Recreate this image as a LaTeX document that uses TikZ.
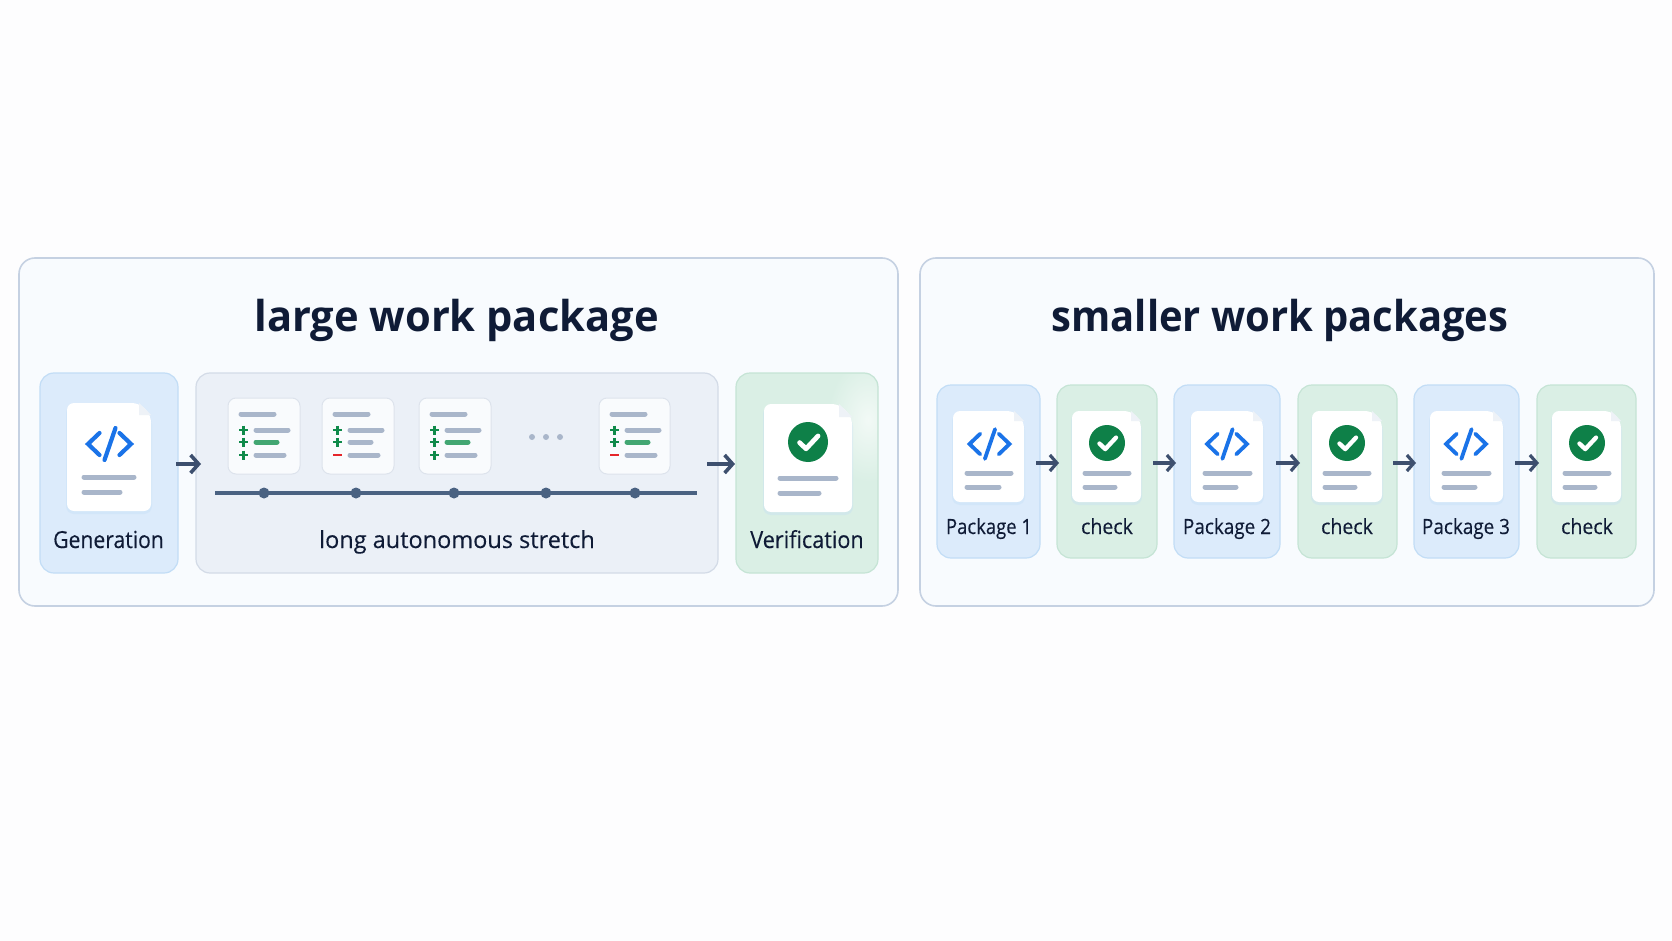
\documentclass[tikz,border=0pt]{standalone}
\usepackage{fontspec}
\usepackage{graphicx}
\setmainfont{Open Sans}
\newfontfamily\labelfont[FakeBold=0.25]{Open Sans}
\usetikzlibrary{arrows.meta,calc}
\definecolor{pagebg}{HTML}{FDFDFE}
\definecolor{panelfill}{HTML}{F8FBFE}
\definecolor{panelline}{HTML}{C5D1E2}
\definecolor{bluefill}{HTML}{DCEBFB}
\definecolor{blueline}{HTML}{C2DDF6}
\definecolor{greenfill}{HTML}{DAEFE5}
\definecolor{greenline}{HTML}{C5E4D5}
\definecolor{grayfill}{HTML}{EBF0F7}
\definecolor{grayline}{HTML}{D3DBE7}
\definecolor{inktext}{HTML}{0F1B36}
\definecolor{arrowink}{HTML}{3D4F6E}
\definecolor{barink}{HTML}{A9B6CA}
\definecolor{barpass}{HTML}{42A672}
\definecolor{plusink}{HTML}{0F8A4A}
\definecolor{minusink}{HTML}{E5252A}
\definecolor{checkink}{HTML}{0E8048}
\definecolor{codeink}{HTML}{1A73E8}
\definecolor{railink}{HTML}{4A6282}
\definecolor{cardline}{HTML}{DDE3EC}
\definecolor{cardfill}{HTML}{F9FBFD}
\definecolor{foldfill}{HTML}{EEF2F7}
\tikzset{
  x=1pt,y=-1pt,
  panelbox/.style={draw=panelline,fill=panelfill,line width=1.6pt,rounded corners=16pt,inner sep=0,outer sep=0},
  bluebox/.style={draw=blueline,fill=bluefill,line width=1.2pt,rounded corners=14pt,inner sep=0,outer sep=0},
  greenbox/.style={draw=greenline,fill=greenfill,line width=1.2pt,rounded corners=14pt,inner sep=0,outer sep=0},
  graybox/.style={draw=grayline,fill=grayfill,line width=1.2pt,rounded corners=14pt,inner sep=0,outer sep=0},
  cardbox/.style={draw=cardline,fill=cardfill,line width=1pt,rounded corners=8pt,inner sep=0,outer sep=0},
  titletext/.style={text=inktext,anchor=base,inner sep=0},
  labeltext/.style={text=inktext,anchor=base,font=\labelfont\fontsize{23.5}{27}\selectfont,inner sep=0},
  smalllabel/.style={text=inktext,anchor=base,font=\labelfont\fontsize{21}{24}\selectfont,inner sep=0},
  bar/.style={barink,line width=5pt,line cap=round},
  passbar/.style={barpass,line width=5pt,line cap=round},
  flowarrow/.style={arrowink,line width=3.6pt,-{Straight Barb[length=8pt,width=18pt,line width=3.6pt]}},
  raildot/.style={circle,fill=railink,minimum size=11pt,inner sep=0,outer sep=0},
  gapdot/.style={circle,fill=barink,minimum size=6pt,inner sep=0,outer sep=0},
}
\newcommand{\titlesized}[3]{\fontsize{#1}{#1}\selectfont\bfseries\scalebox{#2}[1]{#3}}
\newcommand{\squeezed}[2]{\scalebox{#1}[1]{#2}}
% doc sheet: x1 y1 x2 y2 fold
\newcommand{\docsheet}[5]{%
  \fill[blueline,opacity=.35,rounded corners=8pt] (#1-1,#2+2) -- ({#3-#5},#2+2) -- (#3+1,{#2+#5+2}) -- (#3+1,#4+3) -- (#1-1,#4+3) -- cycle;
  \fill[white,rounded corners=7pt] (#1,#2) -- ({#3-#5},#2) -- (#3,{#2+#5}) -- (#3,#4) -- (#1,#4) -- cycle;
  \fill[foldfill] ({#3-#5},#2) -- (#3,{#2+#5}) -- ({#3-#5},{#2+#5}) -- cycle;
}
% code icon: cx cy scale width
\newcommand{\codeicon}[4]{%
  \begin{scope}[shift={(#1,#2)},scale=#3,codeink,line width=#4pt,line cap=round,line join=miter]
    \draw (-10,-11) -- (-21.5,0) -- (-10,11);
    \draw (10,-11) -- (21.5,0) -- (10,11);
    \draw (6,-16) -- (-5,16);
  \end{scope}}
% check icon: cx cy r
\newcommand{\checkicon}[3]{%
  \fill[checkink] (#1,#2) circle[radius=#3];
  \begin{scope}[shift={(#1,#2)},scale=#3]
    \draw[white,line width=#3*0.24pt,line cap=round,line join=round] (-.42,.03) -- (-.1,.34) -- (.5,-.3);
  \end{scope}}
% plus / minus
\newcommand{\plussign}[2]{\draw[plusink,line width=2.8pt] (#1-4.5,#2) -- (#1+4.5,#2) (#1,#2-4.5) -- (#1,#2+4.5);}
\newcommand{\minussign}[2]{\draw[minusink,line width=2.8pt] (#1-4.5,#2) -- (#1+4.5,#2);}
% card: name x y w sign3 style2 len2 len3
\newcommand{\diffcard}[8]{%
  \node[cardbox,anchor=north west,minimum width=#4pt,minimum height=76pt] (#1) at (#2,#3) {};
  \begin{scope}[shift={(#2,#3)}]
    \draw[bar] (13,16) -- (46,16);
    \plussign{15.5}{32}
    \draw[bar] (28,32) -- (60,32);
    \plussign{15.5}{44}
    \draw[#6] (28,44) -- (#7,44);
    #5{15.5}{57}
    \draw[bar] (28,57) -- (#8,57);
  \end{scope}}
\begin{document}
\begin{tikzpicture}
\useasboundingbox (0,0) rectangle (1672,941);
\fill[pagebg] (0,0) rectangle (1672,941);
% panels
\node[panelbox,minimum width=879pt,minimum height=348pt] (leftpanel) at (458.5,432) {};
\node[panelbox,minimum width=734pt,minimum height=348pt] (rightpanel) at (1287,432) {};
\node[titletext] (lefttitle) at (456.5,331) {\titlesized{42.5}{.98}{large work package}};
\node[titletext] (righttitle) at (1280,331.5) {\titlesized{42.5}{.94}{smaller work packages}};
% left boxes
\node[bluebox,minimum width=138pt,minimum height=200pt] (gen) at (109,473) {};
\node[graybox,minimum width=522pt,minimum height=200pt] (stretch) at (457,473) {};
\node[greenbox,minimum width=142pt,minimum height=200pt] (verify) at (807,473) {};
\begin{scope}
  \clip[rounded corners=13pt] (737,374) rectangle (877,572);
  \shade[inner color=greenfill!35!white,outer color=greenfill] (868,420) ellipse[x radius=40,y radius=62];
\end{scope}
\docsheet{67}{403}{151}{511}{12}
\codeicon{109.5}{444}{1}{4.2}
\draw[bar] (84,477) -- (134,477);
\draw[bar] (84,492) -- (120,492);
\node[labeltext] (genlabel) at (108.5,548) {\squeezed{.9}{Generation}};
\diffcard{cardA}{228}{398}{72}{\plussign}{passbar}{49}{56}
\diffcard{cardB}{322}{398}{72}{\minussign}{bar}{49}{56}
\diffcard{cardC}{419}{398}{72}{\plussign}{passbar}{49}{56}
\diffcard{cardD}{599}{398}{71}{\minussign}{passbar}{49}{56}
\node[gapdot] (gapA) at (532,437) {};
\node[gapdot] (gapB) at (546,437) {};
\node[gapdot] (gapC) at (560,437) {};
\coordinate (railstart) at (215,493);
\coordinate (railend) at (697,493);
\draw[railink,line width=3.4pt] (railstart) -- (railend);
\node[raildot] (stopA) at (264,493) {};
\node[raildot] (stopB) at (356,493) {};
\node[raildot] (stopC) at (454,493) {};
\node[raildot] (stopD) at (546,493) {};
\node[raildot] (stopE) at (635,493) {};
\node[labeltext] (stretchlabel) at (457,548) {\squeezed{1}{long autonomous stretch}};
\docsheet{764}{404}{852}{512}{13}
\checkicon{808}{442}{20}
\draw[bar] (780,478) -- (836,478);
\draw[bar] (780,493) -- (819,493);
\node[labeltext] (verifylabel) at (807,548) {\squeezed{.92}{Verification}};
\draw[flowarrow,shorten <=-2pt,shorten >=-5pt] ([yshift=9pt]gen.east) -- ([yshift=9pt]stretch.west);
\draw[flowarrow,shorten <=-11pt,shorten >=1pt] ([yshift=9pt]stretch.east) -- ([yshift=9pt]verify.west);
% right boxes
\node[bluebox,minimum width=103pt,minimum height=173pt] (pkgA) at (988.5,471.5) {};
\node[greenbox,minimum width=100pt,minimum height=173pt] (chkA) at (1107,471.5) {};
\node[bluebox,minimum width=106pt,minimum height=173pt] (pkgB) at (1227,471.5) {};
\node[greenbox,minimum width=99pt,minimum height=173pt] (chkB) at (1347.5,471.5) {};
\node[bluebox,minimum width=105pt,minimum height=173pt] (pkgC) at (1466.5,471.5) {};
\node[greenbox,minimum width=99pt,minimum height=173pt] (chkC) at (1586.5,471.5) {};
% packages
\docsheet{953}{411}{1024}{502}{10}
\codeicon{989.5}{444}{.93}{3.8}
\draw[bar] (967,473) -- (1011,473);
\draw[bar] (967,487) -- (999,487);
\node[smalllabel] (pkgAlabel) at (989,534) {\squeezed{.88}{Package 1}};
\docsheet{1191}{411}{1263}{502}{10}
\codeicon{1227}{444}{.93}{3.8}
\draw[bar] (1205,473) -- (1250,473);
\draw[bar] (1205,487) -- (1236,487);
\node[smalllabel] (pkgBlabel) at (1227,534) {\squeezed{.9}{Package 2}};
\docsheet{1430}{411}{1503}{502}{10}
\codeicon{1466}{444}{.93}{3.8}
\draw[bar] (1444,473) -- (1489,473);
\draw[bar] (1444,487) -- (1475,487);
\node[smalllabel] (pkgClabel) at (1466,534) {\squeezed{.9}{Package 3}};
% checks
\docsheet{1072}{411}{1141}{502}{10}
\checkicon{1107}{443}{18}
\draw[bar] (1085,473) -- (1129,473);
\draw[bar] (1085,487) -- (1115,487);
\node[smalllabel] (chkAlabel) at (1107,534) {\squeezed{.93}{check}};
\docsheet{1312}{411}{1382}{502}{10}
\checkicon{1347}{443}{18}
\draw[bar] (1325,473) -- (1369,473);
\draw[bar] (1325,487) -- (1355,487);
\node[smalllabel] (chkBlabel) at (1347,534) {\squeezed{.93}{check}};
\docsheet{1552}{411}{1621}{502}{10}
\checkicon{1587}{443}{18}
\draw[bar] (1565,473) -- (1609,473);
\draw[bar] (1565,487) -- (1595,487);
\node[smalllabel] (chkClabel) at (1587,534) {\squeezed{.93}{check}};
% arrows
\tikzset{smallarrow/.style={flowarrow,line width=3.2pt,-{Straight Barb[length=7pt,width=16pt,line width=3.2pt]},shorten <=-4pt,shorten >=-2pt}}
\draw[smallarrow] ([yshift=8.5pt]pkgA.east) -- ([yshift=8.5pt]chkA.west);
\draw[smallarrow] ([yshift=8.5pt]chkA.east) -- ([yshift=8.5pt]pkgB.west);
\draw[smallarrow] ([yshift=8.5pt]pkgB.east) -- ([yshift=8.5pt]chkB.west);
\draw[smallarrow] ([yshift=8.5pt]chkB.east) -- ([yshift=8.5pt]pkgC.west);
\draw[smallarrow] ([yshift=8.5pt]pkgC.east) -- ([yshift=8.5pt]chkC.west);
\end{tikzpicture}
\end{document}
